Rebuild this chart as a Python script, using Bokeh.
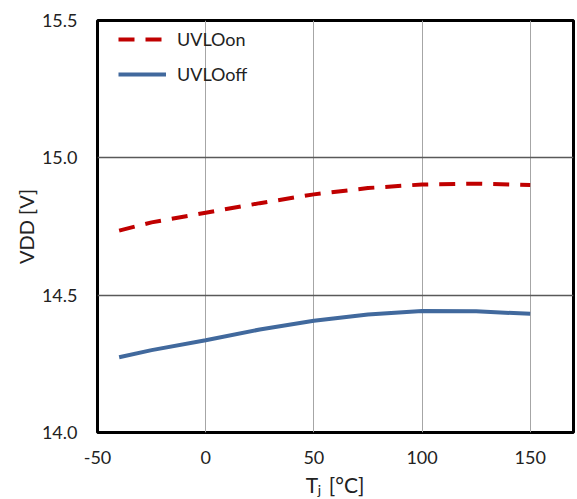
from bokeh.plotting import figure
from bokeh.models import (Range1d, FixedTicker, PrintfTickFormatter, Legend, LegendItem)
from bokeh.core.properties import value
from bokeh.layouts import column
from bokeh.embed import file_html
from bokeh.resources import INLINE

# Data
tj = [-40, -25, 0, 25, 50, 75, 100, 125, 150]
uvlo_on = [14.735, 14.765, 14.800, 14.835, 14.867, 14.890, 14.903, 14.906, 14.901]
uvlo_off = [14.274, 14.300, 14.336, 14.375, 14.407, 14.430, 14.442, 14.441, 14.432]
x_ticks = [-50, 0, 50, 100, 150]
y_ticks = [14.0, 14.5, 15.0, 15.5]
series_names = ["UVLOon", "UVLOoff"]
y_title = "VDD [V]"
x_title_parts = ["T", "j", "[°C]"]

FONT = "Lato"
TXT = "#222222"
W = 577

p = figure(width=W, height=466, output_backend="svg", toolbar_location=None,
           x_range=Range1d(-50, 170), y_range=Range1d(14.0, 15.5),
           min_border_left=97, min_border_right=4, min_border_top=20, min_border_bottom=33)

p.outline_line_color = "black"
p.outline_line_width = 3
p.background_fill_color = "white"
p.border_fill_color = "white"

p.xaxis.ticker = FixedTicker(ticks=x_ticks)
p.xaxis.major_label_overrides = {-50: "-50"}
p.yaxis.ticker = FixedTicker(ticks=y_ticks)
p.yaxis.formatter = PrintfTickFormatter(format="%.1f")
for ax in (p.xaxis[0], p.yaxis[0]):
    ax.axis_line_color = None
    ax.major_tick_line_color = None
    ax.minor_tick_line_color = None
    ax.major_label_text_font = FONT
    ax.major_label_text_font_size = "18px"
    ax.major_label_text_color = TXT
p.xaxis.major_label_standoff = 12
p.yaxis.major_label_standoff = 14

p.yaxis.axis_label = y_title
p.yaxis.axis_label_text_font = FONT
p.yaxis.axis_label_text_font_size = "20px"
p.yaxis.axis_label_text_font_style = "normal"
p.yaxis.axis_label_text_color = TXT
p.yaxis.axis_label_standoff = 1

p.xgrid.grid_line_color = "#a6a6a6"
p.xgrid.grid_line_width = 1
p.ygrid.grid_line_color = "#595959"
p.ygrid.grid_line_width = 1.5

r_on = p.line(tj, uvlo_on, line_color="#C00000", line_width=4, line_dash="16 11")
r_off = p.line(tj, uvlo_off, line_color="#41699D", line_width=4)

legend = Legend(items=[LegendItem(label=series_names[0], renderers=[r_on]),
                       LegendItem(label=series_names[1], renderers=[r_off])],
                location=(21, 347), orientation="vertical")
legend.border_line_color = None
legend.background_fill_alpha = 0
legend.padding = 0
legend.margin = 0
legend.glyph_width = 48
legend.glyph_height = 20
legend.label_height = 20
legend.spacing = 13
legend.label_standoff = 11
legend.label_text_font = FONT
legend.label_text_font_size = "18px"
legend.label_text_color = TXT
p.add_layout(legend, "center")

# strip below the chart carrying the x-axis title (with subscript)
H2 = 33
p2 = figure(width=W, height=H2, output_backend="svg", toolbar_location=None,
            x_range=p.x_range, y_range=Range1d(0, H2),
            x_axis_location=None, y_axis_location=None,
            min_border_left=97, min_border_right=4, min_border_top=0, min_border_bottom=0)
p2.outline_line_color = None
p2.grid.visible = False
p2.background_fill_color = "white"
p2.border_fill_color = "white"
common = dict(text_font=value(FONT), text_color=TXT, text_baseline="alphabetic", text_align="left")
p2.text(x=[50], y=[15], text=[x_title_parts[0]], x_offset=-8, text_font_size="21px", **common)
p2.text(x=[50], y=[10], text=[x_title_parts[1]], x_offset=4, text_font_size="14px", **common)
p2.text(x=[50], y=[15], text=[x_title_parts[2]], x_offset=15, text_font_size="21px", **common)

layout = column(p, p2, spacing=0)
open("out.html", "w").write(file_html(layout, INLINE))
